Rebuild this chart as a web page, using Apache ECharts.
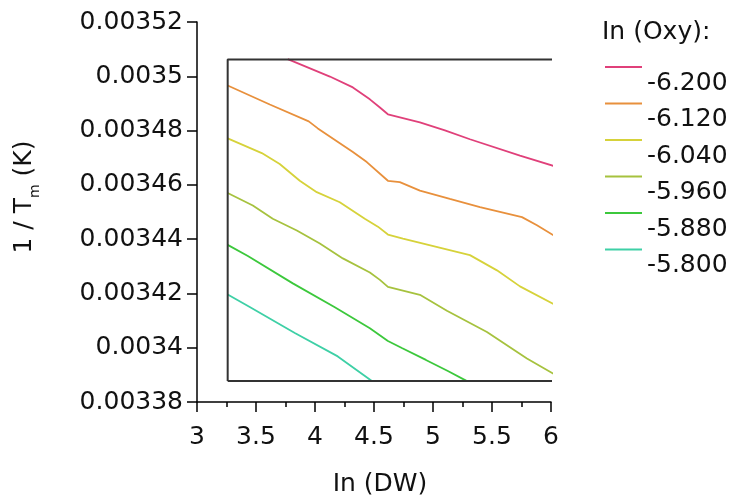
<!DOCTYPE html>
<html><head><meta charset="utf-8">
<script src="https://cdn.jsdelivr.net/npm/echarts@6/dist/echarts.min.js"></script>
<style>html,body{margin:0;padding:0;background:#fff}#c{width:737px;height:502px}</style>
</head><body><div id="c"></div>
<script>
const FONT = 'DejaVu Sans';
const seriesNames = ['-6.200', '-6.120', '-6.040', '-5.960', '-5.880', '-5.800'];
const seriesColors = ['#e0407a', '#e8903c', '#d6d23a', '#a6c23e', '#3cc83c', '#3ed0a6'];

const x6200 = [3.769, 4.126, 4.321, 4.465, 4.550, 4.618, 4.889, 5.101, 5.313, 5.737, 6.034];
const y6200 = [0.0035063, 0.0034999, 0.0034959, 0.0034915, 0.0034885, 0.0034860, 0.0034830, 0.0034801, 0.0034768, 0.0034708, 0.0034668];
const x6120 = [3.260, 3.617, 3.947, 4.024, 4.321, 4.439, 4.618, 4.719, 4.889, 5.143, 5.398, 5.754, 5.881, 6.034];
const y6120 = [0.0034966, 0.0034896, 0.0034834, 0.0034808, 0.0034721, 0.0034684, 0.0034615, 0.0034610, 0.0034579, 0.0034548, 0.0034518, 0.0034481, 0.0034451, 0.0034411];
const x6040 = [3.260, 3.549, 3.701, 3.871, 4.015, 4.210, 4.422, 4.533, 4.618, 4.745, 5.313, 5.542, 5.737, 6.034];
const y6040 = [0.0034771, 0.0034717, 0.0034677, 0.0034615, 0.0034573, 0.0034536, 0.0034475, 0.0034446, 0.0034417, 0.0034402, 0.0034341, 0.0034285, 0.0034226, 0.0034158];
const x5960 = [3.260, 3.473, 3.642, 3.846, 4.041, 4.236, 4.465, 4.550, 4.618, 4.889, 5.118, 5.457, 5.796, 6.034];
const y5960 = [0.0034570, 0.0034524, 0.0034475, 0.0034432, 0.0034384, 0.0034329, 0.0034277, 0.0034250, 0.0034224, 0.0034195, 0.0034136, 0.0034058, 0.0033960, 0.0033901];
const x5880 = [3.260, 3.431, 3.812, 4.168, 4.465, 4.618, 4.736, 4.940, 5.126, 5.288];
const y5880 = [0.0034379, 0.0034338, 0.0034237, 0.0034149, 0.0034072, 0.0034025, 0.0033999, 0.0033955, 0.0033914, 0.0033877];
const x5800 = [3.260, 3.447, 3.829, 4.193, 4.482];
const y5800 = [0.0034196, 0.0034150, 0.0034054, 0.0033968, 0.0033877];

const boxX = [3.26, 6.034];
const boxY = [0.0033877, 0.0035062];

const xs = [x6200, x6120, x6040, x5960, x5880, x5800];
const ys = [y6200, y6120, y6040, y5960, y5880, y5800];

const chart = echarts.init(document.getElementById('c'), null, {renderer: 'canvas'});
const series = seriesNames.map((n, i) => ({
  name: n, type: 'line', showSymbol: false, symbol: 'none', clip: false, silent: true,
  data: xs[i].map((x, j) => [x, ys[i][j]]),
  lineStyle: {color: seriesColors[i], width: 1.8},
  itemStyle: {color: seriesColors[i]}
}));
series.push({
  name: 'frame', type: 'line', symbol: 'none', clip: false, silent: true,
  data: [[boxX[0], boxY[0]], [boxX[1], boxY[0]], [boxX[1], boxY[1]], [boxX[0], boxY[1]], [boxX[0], boxY[0]]],
  lineStyle: {color: '#333', width: 2}, z: 5
});

chart.setOption({
  animation: false,
  backgroundColor: '#fff',
  title: {text: 'In (Oxy):', left: 602, top: 20, padding: 0,
    textStyle: {fontFamily: FONT, fontSize: 25, fontWeight: 'normal', color: '#111'}},
  legend: {
    data: seriesNames, orient: 'vertical', left: 605, top: 66, padding: 0,
    itemWidth: 37, itemHeight: 34, itemGap: 2.5, symbolKeepAspect: false,
    icon: 'path://M0,0L37,0L37,2L0,2ZM0,33.9L0.01,33.9L0.01,34L0,34Z',
    textStyle: {fontFamily: FONT, fontSize: 25, color: '#111'},
    selectedMode: false
  },
  grid: {left: 197, right: 186, top: 22, bottom: 98},
  xAxis: {
    type: 'value', min: 3, max: 6, interval: 0.5,
    name: 'In (DW)', nameLocation: 'middle', nameGap: 70,
    nameTextStyle: {fontFamily: FONT, fontSize: 25, color: '#111', padding: [0, 0, 0, 12]},
    axisLine: {lineStyle: {color: '#000', width: 1.5}},
    axisTick: {length: 10, lineStyle: {color: '#000', width: 1.5}},
    minorTick: {show: true, splitNumber: 2, length: 5, lineStyle: {color: '#000', width: 1.5}},
    axisLabel: {fontFamily: FONT, fontSize: 25, color: '#111', margin: 23},
    splitLine: {show: false}
  },
  yAxis: {
    type: 'value', min: 0.00338, max: 0.00352, interval: 0.00002,
    name: '{a|1 / T}{s|m}{a| (K)}', nameLocation: 'middle', nameGap: 160,
    nameTextStyle: {padding: [0, 0, 0, 30],
      rich: {a: {fontFamily: FONT, fontSize: 25, color: '#111', lineHeight: 25},
             s: {fontFamily: FONT, fontSize: 14, color: '#111', lineHeight: 14, padding: [21, 0, 0, 0]}}},
    axisLine: {show: true, lineStyle: {color: '#000', width: 1.5}},
    axisTick: {show: true, length: 10, lineStyle: {color: '#000', width: 1.5}},
    axisLabel: {fontFamily: FONT, fontSize: 25, color: '#111', margin: 14,
      formatter: v => String(parseFloat(v.toFixed(5)))},
    splitLine: {show: false}
  },
  series: series
});
</script></body></html>
